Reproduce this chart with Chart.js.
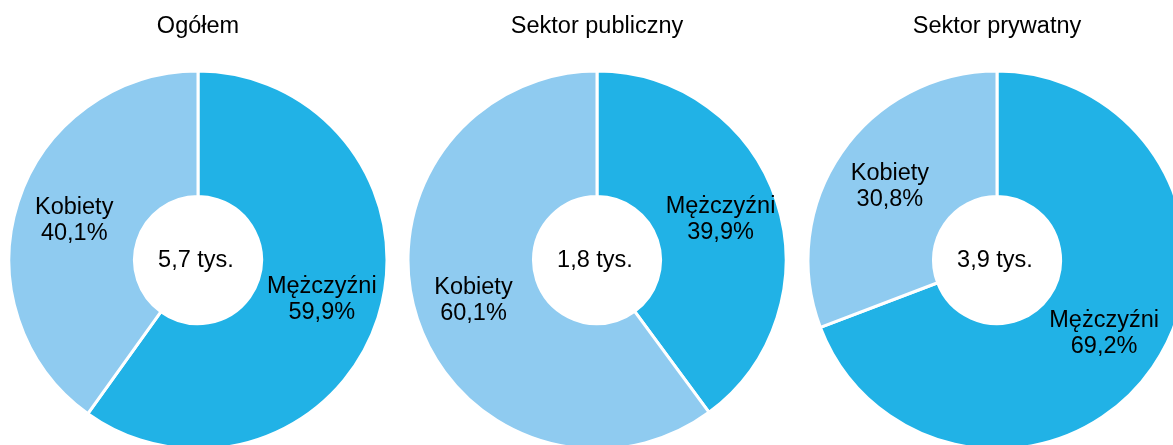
<!DOCTYPE html>
<html lang="pl">
<head>
<meta charset="utf-8">
<title>Struktura według płci</title>
<script src="https://cdn.jsdelivr.net/npm/chart.js@4/dist/chart.umd.min.js"></script>
<style>
  html, body { margin: 0; padding: 0; background: #fff; overflow: hidden; }
  .wrap { position: relative; width: 1173px; height: 445px; overflow: hidden; }
  .wrap canvas { position: absolute; top: 0; }
</style>
</head>
<body>
<div class="wrap">
  <canvas id="chart0" width="400" height="449" style="left:-2px"></canvas>
  <canvas id="chart1" width="400" height="449" style="left:397px"></canvas>
  <canvas id="chart2" width="400" height="449" style="left:797px"></canvas>
</div>
<script>
  // Data
  const segmentLabels = ["Mężczyźni", "Kobiety"];
  const chartTitles = ["Ogółem", "Sektor publiczny", "Sektor prywatny"];
  const totals = ["5,7 tys.", "1,8 tys.", "3,9 tys."];
  const ogolem = [59.9, 40.1];
  const publiczny = [39.9, 60.1];
  const prywatny = [69.2, 30.8];
  const series = [ogolem, publiczny, prywatny];

  const colors = ["#21b2e6", "#8fcbf0"];
  const fontFamily = "'Liberation Sans', Arial, sans-serif";

  Chart.defaults.font.family = fontFamily;
  Chart.defaults.color = "#000";

  const pct = v => v.toFixed(1).replace(".", ",") + "%";

  // Segment labels inside the ring and total in the hole
  const ringLabels = {
    id: "ringLabels",
    afterDatasetsDraw(chart, args, opts) {
      const { ctx } = chart;
      const meta = chart.getDatasetMeta(0);
      const values = chart.data.datasets[0].data;
      ctx.save();
      ctx.fillStyle = "#000";
      ctx.font = "23.5px " + fontFamily;
      ctx.textAlign = "center";
      ctx.textBaseline = "middle";
      meta.data.forEach((arc, i) => {
        const p = arc.getProps(["x", "y", "startAngle", "endAngle", "innerRadius", "outerRadius"], true);
        const mid = (p.startAngle + p.endAngle) / 2;
        const r = p.innerRadius + (p.outerRadius - p.innerRadius) * 0.53;
        const x = p.x + Math.cos(mid) * r;
        const y = p.y + Math.sin(mid) * r;
        ctx.fillText(chart.data.labels[i], x, y - 13);
        ctx.fillText(pct(values[i]), x, y + 13);
      });
      const c = meta.data[0];
      ctx.fillText(opts.total, c.x - 2, c.y);
      ctx.restore();
    }
  };

  series.forEach((values, i) => {
    new Chart(document.getElementById("chart" + i), {
      type: "doughnut",
      data: {
        labels: segmentLabels,
        datasets: [{
          data: values,
          backgroundColor: colors,
          borderColor: "#fff",
          borderWidth: 3
        }]
      },
      options: {
        responsive: false,
        animation: false,
        radius: 189,
        cutout: 63,
        layout: { padding: 0 },
        plugins: {
          legend: { display: false },
          tooltip: { enabled: false },
          title: {
            display: true,
            text: chartTitles[i],
            color: "#000",
            font: { size: 23.5, weight: "normal", family: fontFamily },
            padding: { top: 12, bottom: 31 }
          },
          ringLabels: { total: totals[i] }
        }
      },
      plugins: [ringLabels]
    });
  });
</script>
</body>
</html>
